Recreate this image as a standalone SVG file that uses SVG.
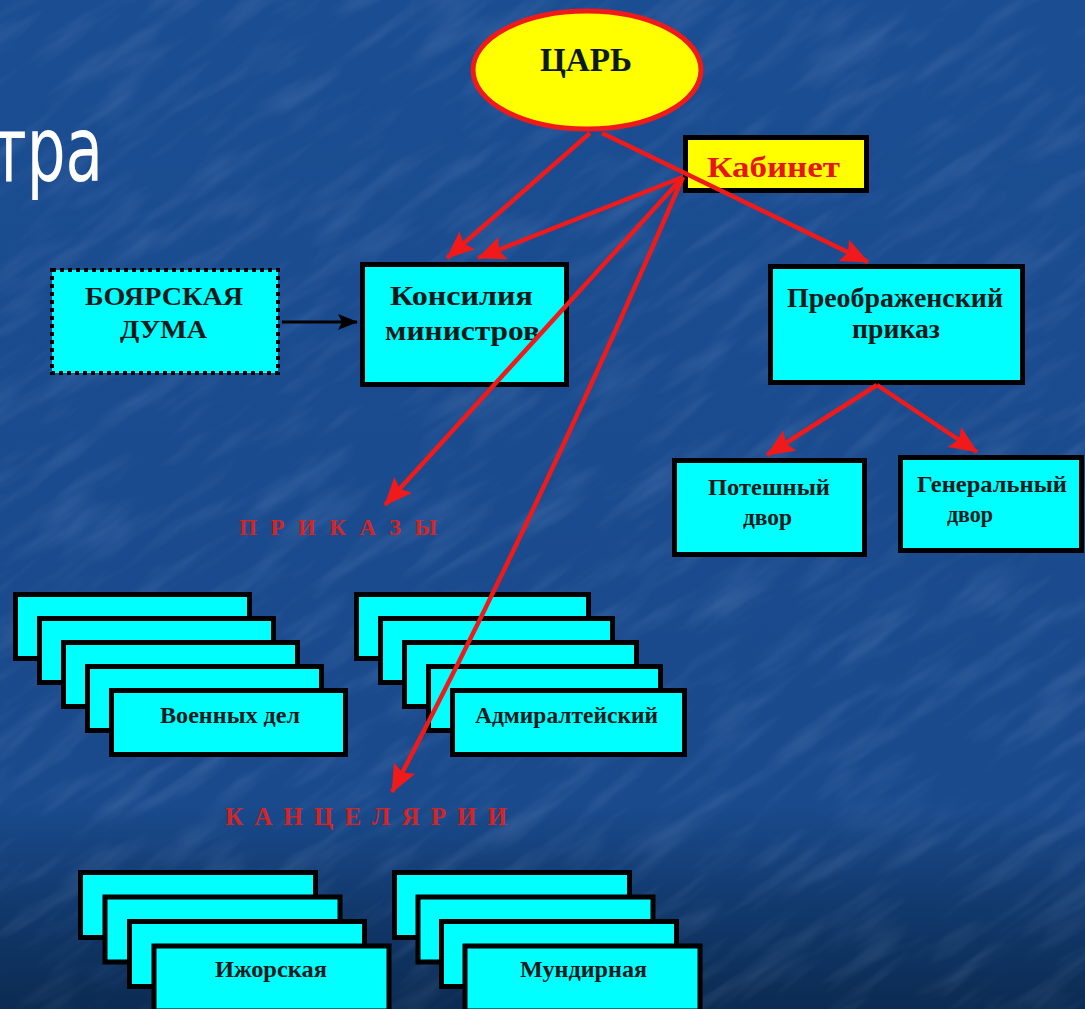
<svg xmlns="http://www.w3.org/2000/svg" width="1085" height="1009" viewBox="0 0 1085 1009">
<defs>
<linearGradient id="bg" x1="0" y1="0" x2="0" y2="1">
<stop offset="0" stop-color="#1b4d92"/>
<stop offset="0.8" stop-color="#1a4a8c"/>
<stop offset="0.88" stop-color="#133c72"/>
<stop offset="1" stop-color="#0b2b52"/>
</linearGradient>
<filter id="tex" x="0" y="0" width="100%" height="100%">
<feTurbulence type="fractalNoise" baseFrequency="0.01 0.05" numOctaves="3" seed="4"/>
<feColorMatrix type="matrix" values="0 0 0 0 0.6  0 0 0 0 0.75  0 0 0 0 1  0 0 0 1.2 -0.55"/>
</filter>
<marker id="ar" markerUnits="userSpaceOnUse" markerWidth="28" markerHeight="24" refX="27" refY="12" orient="auto">
<path d="M0,0 L28,12 L0,24 L5,12 z" fill="#f01a1a"/>
</marker>
<marker id="ab" markerUnits="userSpaceOnUse" markerWidth="20" markerHeight="16" refX="19" refY="8" orient="auto">
<path d="M0,0 L20,8 L0,16 L4,8 z" fill="#000"/>
</marker>
</defs>
<style>
.box{fill:#00ffff;stroke:#000;stroke-width:5}
.t{font-family:"Liberation Serif","Times New Roman",serif;font-weight:bold;fill:#0b1a1a;text-anchor:middle}
.red{stroke:#f01a1a;stroke-width:4.5;fill:none;marker-end:url(#ar)}
.lbl{font-family:"Liberation Serif","Times New Roman",serif;font-weight:bold;fill:#d42424}
</style>
<rect x="0" y="0" width="1085" height="1009" fill="url(#bg)"/>
<rect x="-500" y="-500" width="2100" height="2000" filter="url(#tex)" opacity="0.22" transform="rotate(-35 542 504)"/>

<text x="103" y="181" font-family="DejaVu Sans, sans-serif" font-size="90" fill="#ffffff" text-anchor="end" textLength="112" lengthAdjust="spacingAndGlyphs">тра</text>

<g id="tsar">
<ellipse cx="587" cy="70" rx="114" ry="59" fill="#ffff00" stroke="#f01a1a" stroke-width="5"/>
<text class="t" x="586" y="71" font-size="34" textLength="92" lengthAdjust="spacingAndGlyphs">ЦАРЬ</text>
</g>

<g id="kabinet">
<rect x="685.5" y="137.5" width="181" height="53" fill="#ffff00" stroke="#000" stroke-width="5"/>
<text x="773.5" y="177" font-family="Liberation Serif, serif" font-weight="bold" font-size="30" fill="#e8141c" text-anchor="middle" textLength="133" lengthAdjust="spacingAndGlyphs">Кабинет</text>
</g>

<g id="boyarskaya-duma">
<rect x="52" y="270" width="226" height="103" fill="#00ffff" stroke="#000" stroke-width="4" stroke-dasharray="4 4"/>
<text class="t" x="164" y="305" font-size="25" textLength="158" lengthAdjust="spacingAndGlyphs">БОЯРСКАЯ</text>
<text class="t" x="163.5" y="338" font-size="25" textLength="87" lengthAdjust="spacingAndGlyphs">ДУМА</text>
</g>

<g id="konsiliya">
<rect class="box" x="362.5" y="264.5" width="204" height="120"/>
<text class="t" x="461.5" y="305" font-size="28" textLength="143" lengthAdjust="spacingAndGlyphs">Консилия</text>
<text class="t" x="462.5" y="340" font-size="28" textLength="155" lengthAdjust="spacingAndGlyphs">министров</text>
</g>

<g id="preobrazhensky">
<rect class="box" x="770.5" y="266.5" width="252" height="116"/>
<text class="t" x="895" y="307" font-size="28" textLength="216" lengthAdjust="spacingAndGlyphs">Преображенский</text>
<text class="t" x="896" y="338" font-size="28" textLength="88" lengthAdjust="spacingAndGlyphs">приказ</text>
</g>

<g id="poteshny">
<rect class="box" x="674.5" y="460.5" width="190" height="94"/>
<text class="t" x="769" y="495" font-size="24" textLength="122" lengthAdjust="spacingAndGlyphs">Потешный</text>
<text class="t" x="767.5" y="525" font-size="24" textLength="49" lengthAdjust="spacingAndGlyphs">двор</text>
</g>

<g id="generalny">
<rect class="box" x="900.5" y="457.5" width="181" height="93"/>
<text class="t" x="992" y="492" font-size="24" textLength="150" lengthAdjust="spacingAndGlyphs">Генеральный</text>
<text class="t" x="970" y="522" font-size="24" textLength="46" lengthAdjust="spacingAndGlyphs">двор</text>
</g>

<g id="prikazy-label">
<text class="lbl" x="239" y="535" font-size="23" textLength="198" lengthAdjust="spacing">ПРИКАЗЫ</text>
</g>

<g id="voennyh-del">
<rect class="box" x="15.5" y="594.5" width="234" height="64"/>
<rect class="box" x="39.5" y="618.5" width="234" height="64"/>
<rect class="box" x="63.5" y="642.5" width="234" height="64"/>
<rect class="box" x="87.5" y="666.5" width="234" height="64"/>
<rect class="box" x="111.5" y="690.5" width="234" height="64"/>
<text class="t" x="230" y="723" font-size="23" textLength="140" lengthAdjust="spacingAndGlyphs">Военных дел</text>
</g>

<g id="admiralteysky">
<rect class="box" x="356.5" y="594.5" width="232" height="64"/>
<rect class="box" x="380.5" y="618.5" width="232" height="64"/>
<rect class="box" x="404.5" y="642.5" width="232" height="64"/>
<rect class="box" x="428.5" y="666.5" width="232" height="64"/>
<rect class="box" x="452.5" y="690.5" width="232" height="64"/>
<text class="t" x="566.5" y="723" font-size="23" textLength="183" lengthAdjust="spacingAndGlyphs">Адмиралтейский</text>
</g>

<g id="kantselyarii-label">
<text class="lbl" x="225" y="825" font-size="25" textLength="282" lengthAdjust="spacing">КАНЦЕЛЯРИИ</text>
</g>

<g id="izhorskaya">
<rect class="box" x="80.5" y="872.5" width="235" height="65"/>
<rect class="box" x="105" y="897" width="235" height="65"/>
<rect class="box" x="129.5" y="921.5" width="235" height="65"/>
<rect class="box" x="154" y="946" width="235" height="65"/>
<text class="t" x="271" y="977" font-size="23" textLength="112" lengthAdjust="spacingAndGlyphs">Ижорская</text>
</g>

<g id="mundirnaya">
<rect class="box" x="394.5" y="872.5" width="235" height="65"/>
<rect class="box" x="418" y="897" width="235" height="65"/>
<rect class="box" x="441.5" y="921.5" width="235" height="65"/>
<rect class="box" x="465" y="946" width="235" height="65"/>
<text class="t" x="583.5" y="977" font-size="23" textLength="127" lengthAdjust="spacingAndGlyphs">Мундирная</text>
</g>

<g id="connectors">
<path class="red" d="M590,133 L447,258"/>
<path class="red" d="M683,177 L478,258"/>
<path class="red" d="M602,133 L868,262"/>
<path class="red" d="M683,177 L385,505"/>
<path class="red" stroke-width="3" d="M683,177 Q532,527 392,792"/>
<path class="red" d="M877,385 L767,455"/>
<path class="red" d="M877,385 L977,452"/>
<path d="M282,322 L357,322" stroke="#000" stroke-width="3" fill="none" marker-end="url(#ab)"/>
</g>
</svg>
